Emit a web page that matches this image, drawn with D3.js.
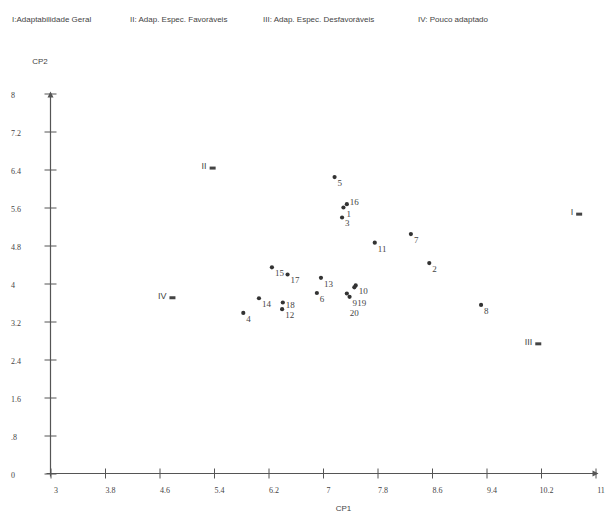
<!DOCTYPE html>
<html>
<head>
<meta charset="utf-8">
<script src="https://cdn.jsdelivr.net/npm/d3@7"></script>
<style>
  body { margin: 0; background: #fff; }
  svg { display: block; }
</style>
</head>
<body>
<svg></svg>
<script>
// genotype labels and their scores on the two components
var genotypes = ["1", "2", "3", "4", "5", "6", "7", "8", "9", "10",
                 "11", "12", "13", "14", "15", "16", "17", "18", "19", "20"];
var cp1 = [7.30, 8.56, 7.28, 5.83, 7.17, 6.91, 8.29, 9.32, 7.39, 7.48,
           7.76, 6.40, 6.97, 6.06, 6.25, 7.35, 6.48, 6.41, 7.46, 7.35];
var cp2 = [5.60, 4.43, 5.39, 3.38, 6.24, 3.80, 5.04, 3.55, 3.72, 3.96,
           4.86, 3.46, 4.12, 3.69, 4.34, 5.67, 4.19, 3.60, 3.92, 3.79];

// ideal reference groups
var groups = ["I", "II", "III", "IV"];
var groupCp1 = [10.76, 5.38, 10.16, 4.79];
var groupCp2 = [5.46, 6.43, 2.73, 3.70];

var legendItems = ["I:Adaptabilidade Geral", "II: Adap. Espec. Favoráveis",
                   "III: Adap. Espec. Desfavoráveis", "IV: Pouco adaptado"];

var xTicks = [3, 3.8, 4.6, 5.4, 6.2, 7, 7.8, 8.6, 9.4, 10.2, 11];
var xLabels = ["3", "3.8", "4.6", "5.4", "6.2", "7", "7.8", "8.6", "9.4", "10.2", "11"];
var yTicks = [0, 0.8, 1.6, 2.4, 3.2, 4, 4.8, 5.6, 6.4, 7.2, 8];
var yLabels = ["0", ".8", "1.6", "2.4", "3.2", "4", "4.8", "5.6", "6.4", "7.2", "8"];

var svgWidth = 606, svgHeight = 524;
var axisColor = '#555';
var textColor = '#444';

var svg = d3.select('svg')
    .attr('width', svgWidth)
    .attr('height', svgHeight);

var x = d3.scaleLinear().domain([3, 11]).range([50.5, 595.5]);
var y = d3.scaleLinear().domain([0, 8]).range([473.5, 93.5]);

// legend line at the top
var legendX = [12, 130, 263, 418];
svg.append('g')
    .selectAll('text')
    .data(legendItems)
    .enter().append('text')
    .attr('x', (d, i) => legendX[i])
    .attr('y', 22)
    .attr('font-family', 'Liberation Sans, Arial, sans-serif')
    .attr('font-size', 8)
    .attr('fill', textColor)
    .text(d => d);

// x axis
var gx = svg.append('g')
    .attr('transform', 'translate(0,' + y(0) + ')')
    .call(d3.axisBottom(x)
        .tickValues(xTicks)
        .tickFormat((d, i) => xLabels[i])
        .tickSize(5)
        .tickSizeOuter(0));
gx.select('.domain').remove();
gx.selectAll('.tick line').attr('y1', -5).attr('stroke', axisColor);
gx.selectAll('.tick text')
    .attr('y', 14)
    .attr('dx', 5)
    .attr('font-family', 'Liberation Serif, Times New Roman, serif')
    .attr('font-size', 8)
    .attr('fill', textColor);
gx.append('line')
    .attr('x1', x(3) - 4).attr('x2', x(11) + 2)
    .attr('stroke', axisColor).attr('stroke-width', 1.2);
gx.append('path')
    .attr('d', 'M' + (x(11) + 3) + ',0 l-6,-3 l0,6 z')
    .attr('fill', axisColor);

// y axis
var gy = svg.append('g')
    .attr('transform', 'translate(' + x(3) + ',0)')
    .call(d3.axisLeft(y)
        .tickValues(yTicks)
        .tickFormat((d, i) => yLabels[i])
        .tickSize(6)
        .tickSizeOuter(0));
gy.select('.domain').remove();
gy.selectAll('.tick line').attr('x1', 6).attr('stroke', axisColor);
gy.selectAll('.tick text')
    .attr('x', 11 - x(3))
    .attr('dy', '0.5em')
    .attr('text-anchor', 'start')
    .attr('font-family', 'Liberation Serif, Times New Roman, serif')
    .attr('font-size', 8)
    .attr('fill', textColor);
gy.append('line')
    .attr('y1', y(0) + 3).attr('y2', y(8))
    .attr('stroke', axisColor).attr('stroke-width', 1.2);
gy.append('path')
    .attr('d', 'M0,' + (y(8) - 2) + ' l-3,6 l6,0 z')
    .attr('fill', axisColor);

// axis titles
svg.append('text')
    .attr('x', x(7.3)).attr('y', 511)
    .attr('text-anchor', 'middle')
    .attr('font-family', 'Liberation Sans, Arial, sans-serif')
    .attr('font-size', 8)
    .attr('fill', textColor)
    .text('CP1');
svg.append('text')
    .attr('x', 40).attr('y', 64)
    .attr('text-anchor', 'middle')
    .attr('font-family', 'Liberation Sans, Arial, sans-serif')
    .attr('font-size', 8)
    .attr('fill', textColor)
    .text('CP2');

// genotypes
var pts = svg.append('g');
pts.selectAll('circle')
    .data(genotypes)
    .enter().append('circle')
    .attr('cx', (d, i) => x(cp1[i]))
    .attr('cy', (d, i) => y(cp2[i]))
    .attr('r', 2.1)
    .attr('fill', '#333');

// place labels right-below each point, nudging ones that would collide
var placed = [];
var nudges = [[0, 0], [0, -4], [0, 5], [0, -8], [0, 10], [5, 10], [0, 14]];
var labelPos = genotypes.map(function(d, i) {
    var bx = x(cp1[i]) + 3, by = y(cp2[i]) + 9;
    var w = d.length * 4.6, h = 8;
    var lx = bx, ly = by;
    for (var k = 0; k < nudges.length; k++) {
        lx = bx + nudges[k][0];
        ly = by + nudges[k][1];
        var hit = placed.some(function(p) {
            return lx < p.x + p.w && lx + w > p.x && ly - h < p.y && ly > p.y - p.h;
        });
        if (!hit) break;
    }
    var pos = {x: lx, y: ly, w: w, h: h};
    placed.push(pos);
    return pos;
});

pts.selectAll('text')
    .data(genotypes)
    .enter().append('text')
    .attr('x', (d, i) => labelPos[i].x)
    .attr('y', (d, i) => labelPos[i].y)
    .attr('font-family', 'Liberation Serif, Times New Roman, serif')
    .attr('font-size', 9)
    .attr('fill', textColor)
    .text(d => d);

// reference groups
var grp = svg.append('g');
grp.selectAll('rect')
    .data(groups)
    .enter().append('rect')
    .attr('x', (d, i) => x(groupCp1[i]) - 3)
    .attr('y', (d, i) => y(groupCp2[i]) - 1.5)
    .attr('width', 6)
    .attr('height', 3)
    .attr('fill', '#444');
grp.selectAll('text')
    .data(groups)
    .enter().append('text')
    .attr('x', (d, i) => x(groupCp1[i]) - 6)
    .attr('y', (d, i) => y(groupCp2[i]) + 1)
    .attr('text-anchor', 'end')
    .attr('font-family', 'Liberation Sans, Arial, sans-serif')
    .attr('font-size', 9)
    .attr('fill', textColor)
    .text(d => d);
</script>
</body>
</html>
